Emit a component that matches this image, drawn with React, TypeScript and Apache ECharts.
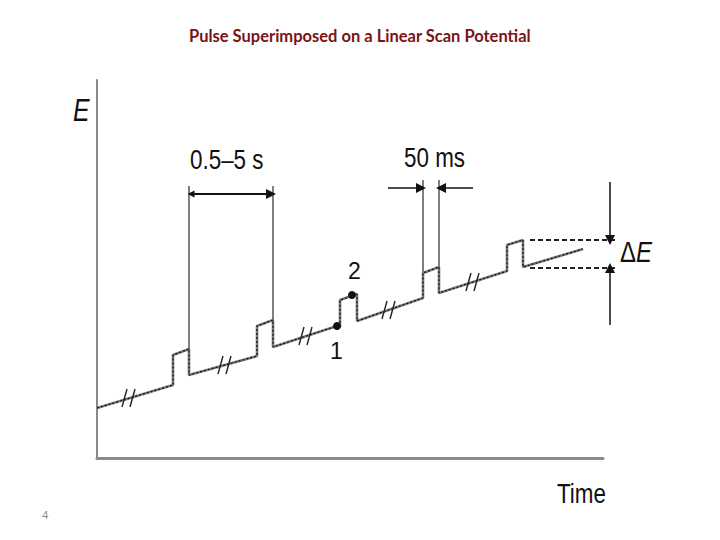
import React, { useEffect, useRef } from "react";
import * as echarts from "echarts";

// Diagram coordinates: time (x) and potential E (y), arbitrary units
const waveform: [number, number][] = [
  [0, 50], [76, 73], [76, 103], [92, 109], [92, 83], [160, 102], [160, 132],
  [176, 138], [176, 111], [240, 132], [243, 131], [243, 158], [260, 164],
  [260, 137], [326, 160], [326, 185], [342, 191], [342, 165], [410, 187],
  [410, 213], [426, 218], [426, 191], [486, 209],
];
const samplePoints: [number, number][] = [[240, 132], [255, 163]];
const sampleLabels = ["1", "2"];
const breakCenters: [number, number][] = [[32, 60], [128, 93], [209, 122], [292, 148], [376, 176]];
const markerLines: [number, number, number][] = [
  // x, yFrom, yTo
  [92, 83, 272], [176, 111, 272], [326, 160, 278], [342, 165, 278],
];
const deltaLevels = [218, 190];
const deltaRange: [number, number] = [433, 520];
const deltaX = 513;

const TITLE = "Pulse Superimposed on a Linear Scan Potential";
const NARROW = "'Liberation Sans', Arial, sans-serif";

export default function App() {
  const ref = useRef<HTMLDivElement>(null);
  useEffect(() => {
    if (!ref.current) return;
    const chart = echarts.init(ref.current, null, { renderer: "svg" });

    const breakSegs: any[] = [];
    breakCenters.forEach(([cx, cy]) => {
      breakSegs.push({ coords: [[cx - 7, cy - 9], [cx - 2, cy + 9]] });
      breakSegs.push({ coords: [[cx + 1, cy - 9], [cx + 6, cy + 9]] });
    });

    const narrowText = (x: number, y: number, text: string, size: number, italic = false) => ({
      type: "text", x, y, scaleX: 0.8,
      style: { text, fill: "#111", font: `${italic ? "italic " : ""}${size}px ${NARROW}` },
    });

    chart.setOption({
      animation: false,
      backgroundColor: "#ffffff",
      grid: { left: 97, top: 80, width: 506, height: 378 },
      xAxis: {
        type: "value", min: 0, max: 506,
        axisLine: { show: true, lineStyle: { color: "#8a8a8a", width: 3 } },
        axisTick: { show: false }, axisLabel: { show: false }, splitLine: { show: false },
      },
      yAxis: {
        type: "value", min: 0, max: 378,
        axisLine: { show: true, lineStyle: { color: "#8a8a8a", width: 2 } },
        axisTick: { show: false }, axisLabel: { show: false }, splitLine: { show: false },
      },
      series: [
        {
          type: "line", data: waveform, symbol: "none", clip: false, z: 3,
          lineStyle: { color: "#7a7a7a", width: 2.6 },
        },
        {
          type: "line", data: waveform, symbol: "none", clip: false, z: 4,
          lineStyle: { color: "#111", width: 1.2, type: [2, 2] },
        },
        {
          type: "lines", coordinateSystem: "cartesian2d", clip: false, z: 5,
          lineStyle: { color: "#222", width: 1.4, opacity: 1 },
          data: breakSegs,
        },
        {
          type: "lines", coordinateSystem: "cartesian2d", clip: false, z: 2,
          lineStyle: { color: "#555", width: 1.5, opacity: 1 },
          data: markerLines.map(([x, a, b]) => ({ coords: [[x, a], [x, b]] })),
        },
        {
          type: "lines", coordinateSystem: "cartesian2d", clip: false, z: 2,
          lineStyle: { color: "#222", width: 2, type: [5, 3], opacity: 1 },
          data: deltaLevels.map((y) => ({ coords: [[deltaRange[0], y], [deltaRange[1], y]] })),
        },
        {
          type: "lines", coordinateSystem: "cartesian2d", clip: false, z: 6,
          symbol: ["none", "triangle"], symbolSize: [7, 10],
          lineStyle: { color: "#111", width: 1.5, opacity: 1 },
          data: [
            { coords: [[deltaX, 276], [deltaX, 218]] },
            { coords: [[deltaX, 133], [deltaX, 190]] },
            { coords: [[291, 270], [324, 270]] },
            { coords: [[376, 270], [344, 270]] },
          ],
        },
        {
          type: "lines", coordinateSystem: "cartesian2d", clip: false, z: 6,
          symbol: ["triangle", "triangle"], symbolSize: [7, 10],
          lineStyle: { color: "#111", width: 2, opacity: 1 },
          data: [{ coords: [[94, 264], [174, 264]] }],
        },
        {
          type: "scatter", data: samplePoints, symbolSize: 8, clip: false, z: 7,
          itemStyle: { color: "#111", opacity: 1 },
          label: {
            show: true, color: "#111", fontSize: 23, fontFamily: NARROW,
            formatter: (p: any) => sampleLabels[p.dataIndex],
            position: [0, 0],
          },
          labelLayout: (p: any) => {
            const r = p.rect;
            if (p.dataIndex === 0) return { x: r.x - 3, y: r.y + 17 };
            return { x: r.x, y: r.y - 32 };
          },
        },
      ],
      graphic: [
        { type: "text", left: "center", top: 27, style: { text: TITLE, fill: "#7a1315", font: "bold 16.5px Lato, 'Open Sans', sans-serif" } },
        narrowText(73, 95, "E", 31, true),
        narrowText(557, 479, "Time", 28),
        narrowText(190, 145, "0.5–5 s", 28),
        narrowText(404, 143, "50 ms", 28),
        {
          type: "text", x: 620, y: 236, scaleX: 0.8,
          style: {
            rich: {
              a: { fontSize: 30, fontFamily: NARROW, fill: "#111" },
              b: { fontSize: 30, fontFamily: NARROW, fontStyle: "italic", fill: "#111" },
            },
            text: "{a|Δ}{b|E}",
          },
        },
        { type: "text", x: 42, y: 509, style: { text: "4", fill: "#888", font: "11px 'Open Sans', sans-serif" } },
      ],
    });
    return () => chart.dispose();
  }, []);
  return <div ref={ref} style={{ position: "fixed", left: 0, top: 0, width: 720, height: 540 }} />;
}
